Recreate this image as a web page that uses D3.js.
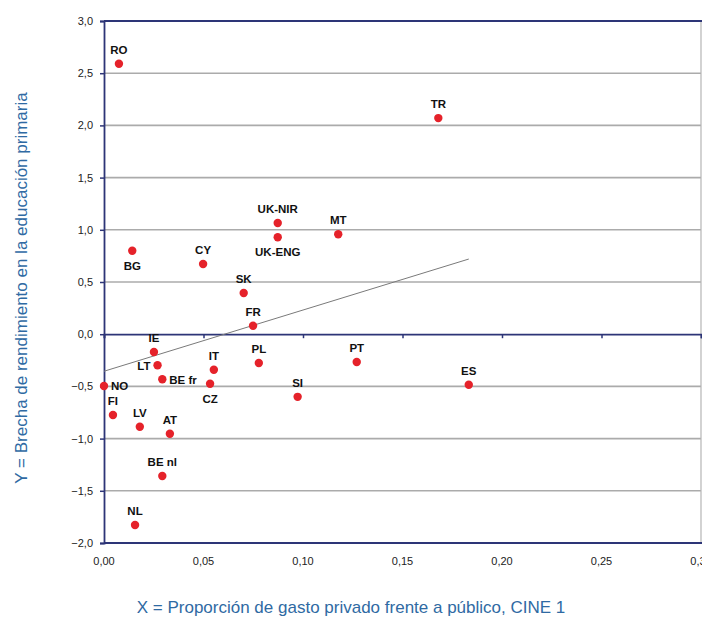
<!DOCTYPE html>
<html>
<head>
<meta charset="utf-8">
<script src="https://cdn.jsdelivr.net/npm/d3@7"></script>
<style>
  html, body { margin: 0; padding: 0; background: #fff; }
  svg { display: block; font-family: "Liberation Sans", Arial, sans-serif; }
</style>
</head>
<body>
<svg id="chart" width="702" height="619"></svg>
<script>
// Country codes, public/private spending ratio (x) and primary attainment gap (y)
const countries = ["RO", "TR", "UK-NIR", "UK-ENG", "MT", "BG", "CY", "SK", "FR", "IE", "LT", "BE fr",
  "NO", "FI", "LV", "AT", "BE nl", "NL", "IT", "CZ", "PL", "SI", "PT", "ES"];
const xValues = [0.0075, 0.168, 0.0873, 0.0873, 0.1177, 0.0142, 0.0498, 0.0702, 0.0749, 0.0251, 0.0269, 0.0293,
  0.0, 0.0045, 0.018, 0.0331, 0.0293, 0.0156, 0.0552, 0.0533, 0.0778, 0.0973, 0.127, 0.1833];
const yValues = [2.59, 2.07, 1.065, 0.928, 0.957, 0.80, 0.672, 0.395, 0.081, -0.17, -0.298, -0.432,
  -0.496, -0.774, -0.886, -0.953, -1.358, -1.828, -0.34, -0.474, -0.276, -0.60, -0.266, -0.484];
// Where each country's code sits relative to its dot
const labelSide = ["above", "above", "above", "below", "above", "below", "above", "above", "above", "above", "left", "right",
  "right", "above", "above", "above", "above", "above", "above", "below", "above", "above", "above", "above"];

// Linear trend line end points
const trendX = [0.0, 0.1833];
const trendY = [-0.355, 0.72];

const xTicks = [0.00, 0.05, 0.10, 0.15, 0.20, 0.25, 0.30];
const yTicks = [-2.0, -1.5, -1.0, -0.5, 0.0, 0.5, 1.0, 1.5, 2.0, 2.5, 3.0];

const xTitle = "X = Proporción de gasto privado frente a público, CINE 1";
const yTitle = "Y = Brecha de rendimiento en la educación primaria";

const svg = d3.select("#chart");
const navy = "#2d3577";
const grid = "#ababab";
const titleBlue = "#2f6aa3";

const x = d3.scaleLinear().domain([0, 0.30]).range([104, 701]);
const y = d3.scaleLinear().domain([-2, 3]).range([543, 21]);

const comma = d => d3.format(".1f")(d).replace(".", ",");
const comma2 = d => d3.format(".2f")(d).replace(".", ",");

// Horizontal gridlines
svg.append("g")
  .selectAll("line")
  .data(yTicks.filter(v => v !== 0 && v !== 3 && v !== -2))
  .join("line")
  .attr("x1", x(0)).attr("x2", x(0.30))
  .attr("y1", d => y(d)).attr("y2", d => y(d))
  .attr("stroke", grid).attr("stroke-width", 1.6);

// Right border
svg.append("line")
  .attr("x1", x(0.30)).attr("x2", x(0.30))
  .attr("y1", y(3)).attr("y2", y(-2))
  .attr("stroke", "#b5b5b5").attr("stroke-width", 1.2);

// Top and bottom borders
[3, -2].forEach(v => {
  svg.append("line")
    .attr("x1", x(0)).attr("x2", x(0.30) + 1)
    .attr("y1", y(v)).attr("y2", y(v))
    .attr("stroke", navy).attr("stroke-width", 1.8);
});

// Horizontal axis at zero with downward ticks
const xAxisZero = d3.axisBottom(x).tickValues(xTicks).tickSize(4).tickFormat("");
const gx = svg.append("g").attr("transform", `translate(0,${y(0)})`).call(xAxisZero);
gx.select(".domain").attr("stroke", navy).attr("stroke-width", 1.8);
gx.selectAll(".tick line").attr("stroke", navy).attr("stroke-width", 1.5);

// X tick labels below the plot
svg.append("g")
  .selectAll("text")
  .data(xTicks)
  .join("text")
  .attr("x", d => x(d))
  .attr("y", y(-2) + 22)
  .attr("text-anchor", "middle")
  .attr("font-size", 11)
  .attr("fill", "#222")
  .text(d => comma2(d));

// Vertical axis
const yAxis = d3.axisLeft(y).tickValues(yTicks).tickSize(4).tickPadding(7).tickFormat(comma);
const gy = svg.append("g").attr("transform", `translate(${x(0)},0)`).call(yAxis);
gy.select(".domain").attr("stroke", navy).attr("stroke-width", 1.8);
gy.selectAll(".tick line").attr("stroke", navy).attr("stroke-width", 1.5);
gy.selectAll(".tick text").attr("font-size", 11).attr("fill", "#222")
  .attr("font-family", "'Liberation Sans', Arial, sans-serif");

// Trend line
svg.append("line")
  .attr("x1", x(trendX[0])).attr("y1", y(trendY[0]))
  .attr("x2", x(trendX[1])).attr("y2", y(trendY[1]))
  .attr("stroke", "#7a7a7a").attr("stroke-width", 1);

// Data points
const data = countries.map((c, i) => ({ c, x: xValues[i], y: yValues[i], side: labelSide[i] }));

svg.append("g")
  .selectAll("circle")
  .data(data)
  .join("circle")
  .attr("cx", d => x(d.x))
  .attr("cy", d => y(d.y))
  .attr("r", 4.2)
  .attr("fill", "#e5222a");

// Country labels
const off = {
  above: { dx: 0, dy: -10, anchor: "middle" },
  below: { dx: 0, dy: 19, anchor: "middle" },
  left:  { dx: -7, dy: 4.5, anchor: "end" },
  right: { dx: 7, dy: 4.5, anchor: "start" }
};
svg.append("g")
  .selectAll("text")
  .data(data)
  .join("text")
  .attr("x", d => x(d.x) + off[d.side].dx)
  .attr("y", d => y(d.y) + off[d.side].dy)
  .attr("text-anchor", d => off[d.side].anchor)
  .attr("font-size", 11.5)
  .attr("font-weight", "bold")
  .attr("fill", "#111")
  .text(d => d.c);

// Axis titles
svg.append("text")
  .attr("x", 351).attr("y", 613)
  .attr("text-anchor", "middle")
  .attr("font-size", 17)
  .attr("fill", titleBlue)
  .text(xTitle);

svg.append("text")
  .attr("transform", "translate(27,288) rotate(-90)")
  .attr("text-anchor", "middle")
  .attr("font-size", 17)
  .attr("fill", titleBlue)
  .text(yTitle);
</script>
</body>
</html>
